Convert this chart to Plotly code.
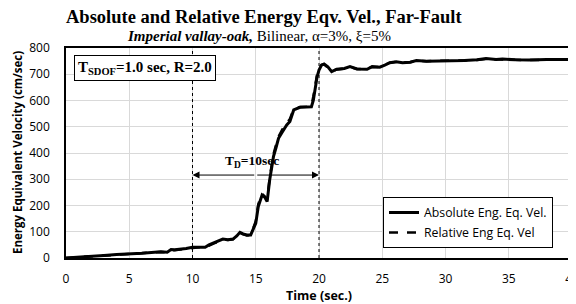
import plotly.graph_objects as go

time_s = [0, 1, 2, 3, 4, 5, 6, 7, 7.5, 8,
          8.3, 8.6, 9, 9.5, 10, 10.5, 11, 11.3, 11.7, 12,
          12.4, 12.8, 13.2, 13.5, 13.75, 14, 14.3, 14.6, 14.8, 15,
          15.2, 15.5, 15.7, 15.9, 16.1, 16.4, 16.6, 16.8, 17.1, 17.45,
          17.7, 18.0, 18.5, 19, 19.4, 19.55, 19.7, 19.85, 20.0, 20.2,
          20.4, 20.7, 21.0, 21.4, 22.0, 22.45, 23.0, 23.8, 24.2, 24.8,
          25.2, 25.6, 26.1, 26.6, 27.2, 27.7, 28.5, 29.5, 30.4, 31.5,
          32.5, 33.2, 34, 34.5, 35.5, 36.6, 38, 40]
abs_vel = [0, 4, 7, 10, 13, 15, 18, 22, 24, 22,
           32, 31, 33, 36, 41, 42, 41, 50, 58, 63,
           72, 70, 72, 84, 98, 92, 88, 88, 110, 132,
           196, 240, 232, 215, 297, 386, 420, 456, 480, 507,
           520, 564, 574, 575, 576, 600, 653, 690, 716, 735,
           739, 728, 710, 719, 722, 729, 720, 719, 729, 727,
           735, 744, 748, 744, 746, 752, 750, 750, 752, 752,
           755, 760, 756, 758, 755, 754, 756, 756]
rel_vel = [0, 3, 6, 9, 12, 14, 17, 21, 23, 21,
           30, 30, 32, 35, 39, 41, 40, 48, 56, 61,
           70, 69, 71, 82, 95, 90, 86, 87, 115, 140,
           205, 245, 235, 222, 305, 395, 430, 462, 490, 515,
           530, 568, 575, 576, 580, 615, 665, 700, 722, 736,
           738, 726, 712, 718, 721, 728, 720, 720, 728, 727,
           736, 744, 747, 745, 746, 751, 750, 751, 751, 752,
           754, 758, 756, 757, 755, 754, 756, 756]

x_ticks = [0, 5, 10, 15, 20, 25, 30, 35, 40]
y_ticks = [0, 100, 200, 300, 400, 500, 600, 700, 800]
td_start, td_end, td_level = 10, 20, 316

fig = go.Figure()
fig.add_trace(go.Scatter(x=time_s, y=abs_vel, mode="lines", name="Absolute Eng. Eq. Vel.",
                         legendgroup="a", line=dict(color="black", width=3)))
fig.add_trace(go.Scatter(x=time_s, y=rel_vel, mode="lines", name="Relative Eng Eq. Vel",
                         legendgroup="b", line=dict(color="black", width=2.5, dash="dash")))

for xv in (td_start, td_end):
    fig.add_shape(type="line", x0=xv, x1=xv, y0=0, y1=800, xref="x", yref="y",
                  line=dict(color="black", width=1, dash="dot"))

mid = (td_start + td_end) / 2
for tip in (td_start, td_end):
    fig.add_annotation(x=tip, y=td_level, ax=mid, ay=td_level, xref="x", yref="y",
                       axref="x", ayref="y", text="", showarrow=True,
                       arrowhead=2, arrowsize=1.4, arrowwidth=1, arrowcolor="black")
fig.add_annotation(x=mid - 0.3, y=td_level + 52, xref="x", yref="y", showarrow=False,
                   text="<b>T<sub>D</sub>=10sec</b>",
                   font=dict(family="Liberation Serif", size=13.5, color="black"))

fig.add_annotation(x=0.016, y=0.965, xref="paper", yref="paper", xanchor="left", yanchor="top",
                   showarrow=False, text="<b>T<sub>SDOF</sub>=1.0 sec, R=2.0</b>",
                   font=dict(family="Liberation Serif", size=15, color="black"),
                   bordercolor="black", borderwidth=1, borderpad=3, bgcolor="white")

fig.add_annotation(x=(264 - 66) / 506, y=(258 - 17) / 210, xref="paper", yref="paper",
                   showarrow=False, xanchor="center", yanchor="middle",
                   text="<b>Absolute and Relative Energy Eqv. Vel., Far-Fault</b>",
                   font=dict(family="Liberation Serif", size=18.5, color="black"))
fig.add_annotation(x=(259 - 66) / 506, y=(258 - 36) / 210, xref="paper", yref="paper",
                   showarrow=False, xanchor="center", yanchor="middle",
                   text="<b><i>Imperial vallay-oak,</i></b> Bilinear, α=3%, ξ=5%",
                   font=dict(family="Liberation Serif", size=15, color="black"))

# y-axis title as a rotated annotation so it can sit close to the left edge
fig.add_annotation(x=(17 - 66) / 506, y=0.5, xref="paper", yref="paper",
                   showarrow=False, xanchor="center", yanchor="middle", textangle=-90,
                   text="<b>Energy Equivalent Velocity (cm/sec)</b>",
                   font=dict(family="Open Sans", size=11.5, color="black"))

# page body has an 8px default margin, so the figure is sized to fit the window
fig.update_layout(
    width=568, height=296,
    margin=dict(l=58, r=4, t=40, b=46),
    paper_bgcolor="white", plot_bgcolor="white",
    font=dict(family="Open Sans", size=12, color="black"),
    legend=dict(x=(383 - 66) / 506, y=(258 - 197) / 210, xanchor="left", yanchor="top",
                bordercolor="black", borderwidth=1, bgcolor="white",
                font=dict(family="Open Sans", size=12.3), tracegroupgap=1,
                traceorder="grouped"),
    xaxis=dict(range=[0, 40], tickvals=x_ticks, showgrid=True, gridcolor="#d9d9d9",
               showline=True, linecolor="black", linewidth=1.5, mirror=True,
               ticks="", zeroline=False, ticklabeloverflow="allow", automargin=False,
               ticklabelstandoff=9,
               title=dict(text="<b>Time (sec.)</b>", font=dict(size=12.5), standoff=7)),
    yaxis=dict(range=[0, 800], tickvals=y_ticks, showgrid=True, gridcolor="#d9d9d9",
               showline=True, linecolor="black", linewidth=1.5, mirror=True,
               ticks="", zeroline=False, automargin=False, ticklabelstandoff=12),
)

fig.write_html("out.html")
